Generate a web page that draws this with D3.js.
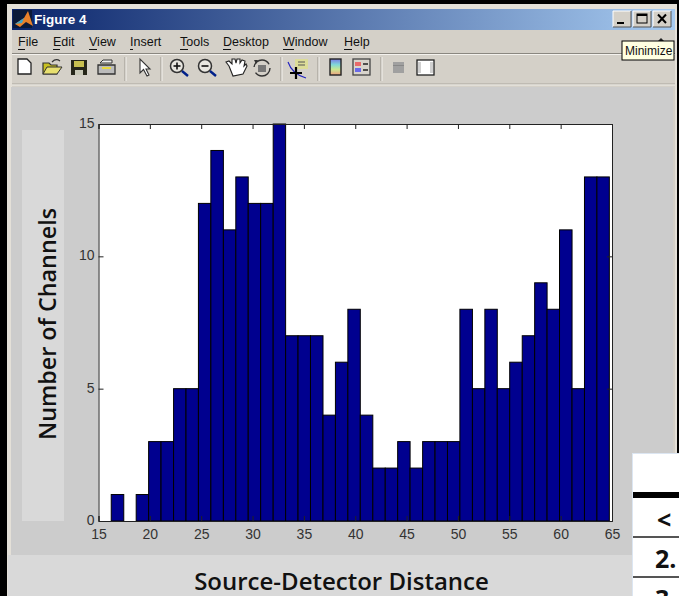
<!DOCTYPE html>
<html>
  <head>
    <meta charset="utf-8">
    <script src="https://cdn.jsdelivr.net/npm/d3@7"></script>
    <style>
      html, body { margin: 0; padding: 0; background: #000; overflow: hidden; }
      svg { display: block; }
      .tick text { font-family: "Liberation Sans", Arial, sans-serif; font-size: 14px; fill: #333; }
      .menu { font-family: "Liberation Sans", Arial, sans-serif; font-size: 12.5px; fill: #111; }
      .big { font-family: "Open Sans", sans-serif; font-size: 24px; font-weight: 600; fill: #111; }
    </style>
  </head>
  <body>
    <svg width="679" height="596"></svg>
    <script>
      // histogram
      const binEdges = [15.0,16.24,17.46,18.67,19.88,21.09,22.31,23.52,24.73,25.94,27.16,28.37,29.58,30.79,32.01,33.22,34.43,35.64,36.86,38.07,39.28,40.49,41.71,42.92,44.13,45.34,46.56,47.77,48.98,50.19,51.41,52.62,53.83,55.04,56.26,57.47,58.68,59.89,61.11,62.32,63.53,64.74];
      const counts = [0,1,0,1,3,3,5,5,12,14,11,13,12,12,15,7,7,7,4,6,8,4,2,2,3,2,3,3,3,8,5,8,5,6,7,9,8,11,5,13,13];
      const xTicks = [15,20,25,30,35,40,45,50,55,60,65];
      const yTicks = [0,5,10,15];
      const menuItems = ["File","Edit","View","Insert","Tools","Desktop","Window","Help"];
      const menuX = [18,53,89,130,180,223,283,344];
      const menuUnderline = [7,7,8,3,8,8,11,8];

      const svg = d3.select("svg");

      const rect = (x, y, w, h, fill, parent = svg) =>
        parent.append("rect").attr("x", x).attr("y", y).attr("width", w).attr("height", h).attr("fill", fill);
      const line = (x1, y1, x2, y2, stroke, sw = 1, parent = svg) =>
        parent.append("line").attr("x1", x1).attr("y1", y1).attr("x2", x2).attr("y2", y2).attr("stroke", stroke).attr("stroke-width", sw);
      const path = (d, fill, stroke = "none", sw = 1, parent = svg) =>
        parent.append("path").attr("d", d).attr("fill", fill).attr("stroke", stroke).attr("stroke-width", sw);

      // window frame
      rect(7, 4, 670, 592, "#e4e0d8");
      rect(12, 9, 663, 587, "#d4d0c8");

      const grad = svg.append("defs").append("linearGradient").attr("id", "titlebar");
      grad.append("stop").attr("offset", "0").attr("stop-color", "#0a246a");
      grad.append("stop").attr("offset", "1").attr("stop-color", "#a6caf0");
      rect(12, 9, 663, 21, "url(#titlebar)");

      // matlab logo
      rect(13, 10, 19, 18, "#0a1a3a");
      path("M15 24 L24 18 L28 11 L33 26 L26 22 L20 27 Z", "#e8812a");
      path("M15 24 L24 18 L22 23 Z", "#3fa6c9");
      svg.append("text").attr("x", 34).attr("y", 24).attr("fill", "#fff")
        .style("font", "bold 13.5px 'Liberation Sans', Arial, sans-serif").text("Figure 4");

      // window buttons
      [[613, "min"], [633, "max"], [653, "close"]].forEach(([bx, kind]) => {
        rect(bx, 11, 18, 16, "#d4d0c8");
        path(`M${bx} 27 V11 H${bx + 18}`, "none", "#fff");
        path(`M${bx} 27 H${bx + 18} V11`, "none", "#555");
        if (kind === "min") rect(bx + 4, 22, 7, 2, "#000");
        if (kind === "max") {
          svg.append("rect").attr("x", bx + 4).attr("y", 14).attr("width", 10).attr("height", 9)
            .attr("fill", "none").attr("stroke", "#000");
          rect(bx + 4, 14, 10, 2, "#000");
        }
        if (kind === "close") path(`M${bx + 5} 14.5 L${bx + 13} 23 M${bx + 13} 14.5 L${bx + 5} 23`, "none", "#000", 2);
      });

      // menu bar
      menuItems.forEach((m, i) => {
        svg.append("text").attr("class", "menu").attr("x", menuX[i]).attr("y", 46).text(m);
        line(menuX[i], 49.5, menuX[i] + menuUnderline[i], 49.5, "#111");
      });
      line(12, 53.5, 675, 53.5, "#8a8780");
      line(12, 54.5, 675, 54.5, "#f4f2ee");
      // dock arrow, mostly hidden behind the tooltip
      path("M658 41 L661 38 L664 41 Z", "#222");

      // toolbar icons
      path("M18 59 H27 L31 63 V74 H18 Z", "#fff", "#222", 1.3);
      path("M43 74 V63 H49 L51 65 H57 V74 Z", "#c8c020", "#333", 1.2);
      path("M43 74 L47 67 H62 L57 74 Z", "#e8e070", "#333", 1);
      path("M52 62 Q56 58 60 61", "none", "#333", 1.2);
      rect(71, 60, 16, 15, "#26261a");
      rect(74, 61, 10, 6, "#c8c050");
      rect(75, 70, 8, 5, "#c8c8b8");
      path("M100 63 H112 V60 H103 Z", "#eee", "#333", 1);
      path("M98 65 H115 V74 H98 Z", "#bbb", "#333", 1.3);
      rect(102, 67, 9, 2, "#e8d840");
      path("M140 59 V73 L143.5 69.5 L147 76 L149 75 L146 69 H150 Z", "#fff", "#333", 1.1);

      [[177, "in"], [205, "out"]].forEach(([cx, kind]) => {
        svg.append("circle").attr("cx", cx).attr("cy", 66).attr("r", 6.5)
          .attr("fill", "#e8e6e0").attr("stroke", "#333").attr("stroke-width", 1.5);
        line(cx - 3.5, 66, cx + 3.5, 66, "#111", 1.6);
        if (kind === "in") line(cx, 62.5, cx, 69.5, "#111", 1.6);
        line(cx + 5, 71, cx + 11, 76, "#00208a", 2.4);
      });

      path("M229 66 L226 62 L229 61 L232 64 L232 59 L235 59 L236 63 L237 59 L240 59 L240 63 L242 60 L245 61 L244 66 L246 64 L247 66 L243 74 L233 76 Z", "#fff", "#222", 1.1);

      svg.append("circle").attr("cx", 262).attr("cy", 68).attr("r", 8)
        .attr("fill", "none").attr("stroke", "#333").attr("stroke-width", 1.4).attr("stroke-dasharray", "20 6");
      rect(258, 65, 8, 7, "#777");
      path("M254 60 L258 60 L256 64 Z", "#333");

      path("M288 62 Q292 74 306 78", "none", "#2020c0", 1.1);
      rect(295, 59, 13, 10, "#dcdc98");
      path("M298 62 H305 M298 65 H305", "none", "#555");
      path("M290 73 H302 M296 67 V79", "none", "#000", 2.2);

      const rainbow = svg.select("defs").append("linearGradient").attr("id", "bar")
        .attr("x1", 0).attr("y1", 0).attr("x2", 0).attr("y2", 1);
      [["0", "#7a7ae8"], [".35", "#80d8d8"], [".65", "#c8e890"], ["1", "#f0a080"]].forEach(([o, c]) =>
        rainbow.append("stop").attr("offset", o).attr("stop-color", c));
      svg.append("rect").attr("x", 330).attr("y", 59).attr("width", 11).attr("height", 16)
        .attr("fill", "url(#bar)").attr("stroke", "#222").attr("stroke-width", 1.4);

      svg.append("rect").attr("x", 353).attr("y", 59).attr("width", 17).attr("height", 16)
        .attr("fill", "#d8d4cc").attr("stroke", "#444").attr("stroke-width", 1.3);
      rect(355, 62, 6, 4, "#e86a6a");
      rect(355, 68, 6, 4, "#6a6ae8");
      path("M363 64 H368 M363 70 H368", "none", "#222", 1.3);

      rect(393, 62, 11, 11, "#a0a0a0");
      line(393, 65.5, 404, 65.5, "#888");
      svg.append("rect").attr("x", 417).attr("y", 60).attr("width", 17).attr("height", 15)
        .attr("fill", "#fff").attr("stroke", "#222").attr("stroke-width", 1.3);
      rect(418, 62, 3, 11, "#d0d0d0");
      rect(430, 62, 3, 11, "#d0d0d0");

      // toolbar separators
      [125, 161, 281, 318, 381].forEach(sx => {
        line(sx, 57, sx, 81, "#9a978f");
        line(sx + 1, 57, sx + 1, 81, "#f4f2ee");
      });
      line(12, 84, 675, 84, "#aaa79f");
      line(12, 85, 675, 85, "#f0eee8");

      // figure background + slide panels laid over it
      rect(11, 87, 662, 468, "#cccccc");
      rect(8, 555, 669, 41, "#d9d9d9");
      rect(22, 130, 42, 391, "#d9d9d9");

      // plot
      const margin = { left: 98.5, right: 612, top: 124, bottom: 521 };
      const x = d3.scaleLinear().domain([15, 65]).range([margin.left, margin.right]);
      const y = d3.scaleLinear().domain([0, 15]).range([margin.bottom, margin.top]);

      rect(margin.left, margin.top, margin.right - margin.left, margin.bottom - margin.top, "#fff");

      svg.append("g").selectAll("rect")
        .data(counts)
        .join("rect")
        .attr("x", (d, i) => x(binEdges[i]))
        .attr("y", d => y(d))
        .attr("width", (d, i) => x(binEdges[i + 1]) - x(binEdges[i]))
        .attr("height", d => y(0) - y(d))
        .attr("fill", "#00008f")
        .attr("stroke", "#000")
        .attr("stroke-width", 1);

      const xAxis = svg.append("g").attr("transform", `translate(0,${margin.bottom})`)
        .call(d3.axisBottom(x).tickValues(xTicks).tickSize(-5).tickPadding(4));
      xAxis.selectAll("text").attr("y", 7).attr("dy", "0.8em");
      const yAxis = svg.append("g").attr("transform", `translate(${margin.left},0)`)
        .call(d3.axisLeft(y).tickValues(yTicks).tickSize(-5).tickPadding(4));
      svg.append("g").attr("transform", `translate(0,${margin.top})`)
        .call(d3.axisTop(x).tickValues(xTicks).tickSize(-5).tickFormat(""));
      svg.append("g").attr("transform", `translate(${margin.right},0)`)
        .call(d3.axisRight(y).tickValues(yTicks).tickSize(-5).tickFormat(""));
      svg.selectAll(".domain, .tick line").attr("stroke", "#222");
      yAxis.selectAll("text").attr("dy", "0.25em");

      // axis titles, they sit on the slide panels
      svg.append("text").attr("class", "big").attr("text-anchor", "middle").style("font-size", "23.3px")
        .attr("transform", "translate(56,324) rotate(-90)").text("Number of Channels");
      svg.append("text").attr("class", "big").attr("text-anchor", "middle")
        .attr("x", 341.5).attr("y", 590).text("Source-Detector Distance");

      // tooltip
      rect(622, 41, 52, 19, "#ffffe1").attr("stroke", "#000");
      svg.append("text").attr("x", 625).attr("y", 55).attr("fill", "#111")
        .style("font", "12px 'Liberation Sans', Arial, sans-serif").text("Minimize");

      // clipped table from the slide
      rect(632, 453, 47, 143, "#dce6f2");
      rect(633, 454, 46, 142, "#fff");
      rect(633, 492, 46, 6, "#000");
      rect(633, 536, 46, 2, "#555");
      rect(633, 576, 46, 2, "#555");
      const cell = (tx, ty, t) => svg.append("text").attr("x", tx).attr("y", ty).attr("fill", "#111")
        .style("font", "bold 25px 'Open Sans', sans-serif").text(t);
      cell(657, 529, "<");
      cell(655, 568, "2.");
      cell(655, 608, "3.");
    </script>
  </body>
</html>
